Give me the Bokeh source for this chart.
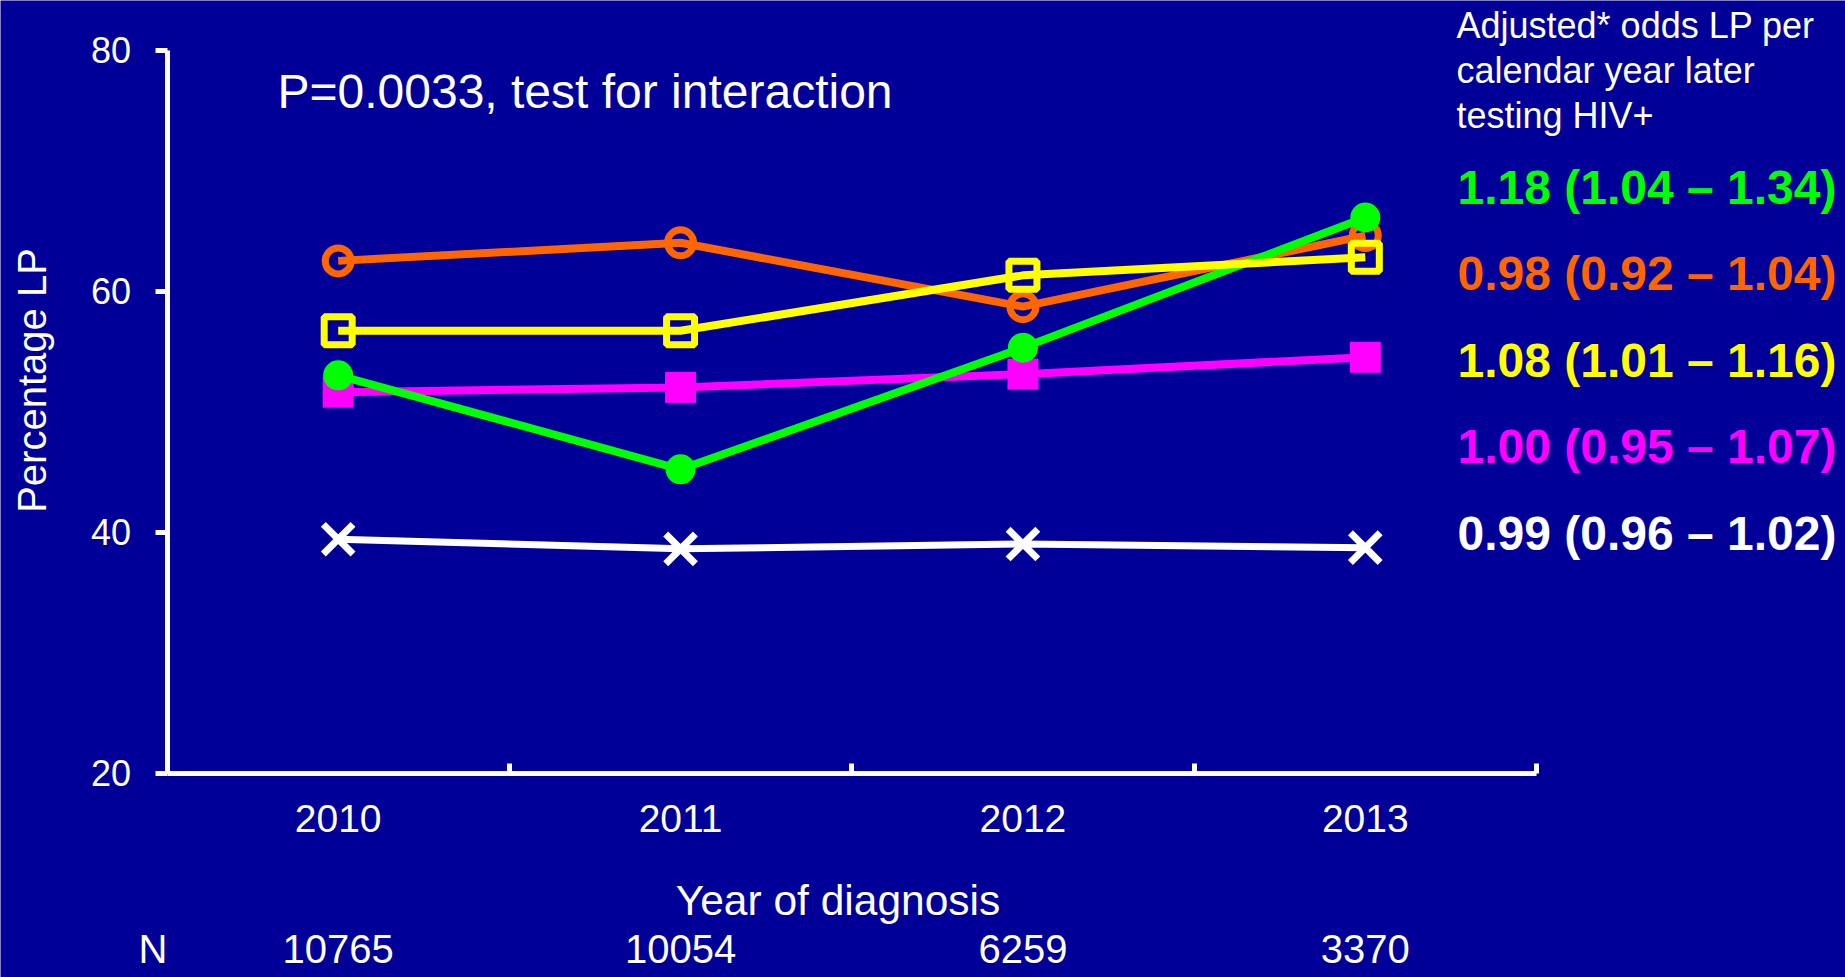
import math
from bokeh.plotting import figure
from bokeh.models import Range1d, FixedTicker, Label, LinearAxis
from bokeh.embed import file_html
from bokeh.resources import INLINE

# ---------------- data ----------------
years = [2010, 2011, 2012, 2013]
n_values = ["10765", "10054", "6259", "3370"]

green_vals = [53.0, 45.2, 55.3, 66.1]
orange_vals = [62.5, 64.0, 58.7, 64.6]
yellow_vals = [56.7, 56.7, 61.3, 62.8]
magenta_vals = [51.6, 52.0, 53.1, 54.5]
white_vals = [39.4, 38.6, 39.0, 38.7]

y_ticks = [20, 40, 60, 80]

odds_labels = [
    "1.18 (1.04 \u2013 1.34)",
    "0.98 (0.92 \u2013 1.04)",
    "1.08 (1.01 \u2013 1.16)",
    "1.00 (0.95 \u2013 1.07)",
    "0.99 (0.96 \u2013 1.02)",
]
header_lines = ["Adjusted* odds LP per", "calendar year later", "testing HIV+"]

# ---------------- style / layout ----------------
BG = "#000099"
GREEN = "#00FF00"
ORANGE = "#FF6600"
YELLOW = "#FFFF00"
MAGENTA = "#FF00FF"
WHITE = "#FFFFFF"
FONT = "Liberation Sans"

W, H = 1845, 977
XA, XB = 2009.5, 2013.5          # axis extent (x)
YA, YB = 20, 80                  # axis extent (y)
AX_L, AX_R = 166.5, 1536.0       # pixel x of XA, XB
AX_T, AX_B = 49.5, 772.5         # pixel y of YB, YA
SX = (AX_R - AX_L) / (XB - XA)
SY = (AX_B - AX_T) / (YB - YA)
x_start = XA - AX_L / SX
x_end = XB + (W - AX_R) / SX
y_end = YB + AX_T / SY
y_start = YA - (H - AX_B) / SY

BASE_FIX = 0.33   # measured offset of the rendered alphabetic baseline (em)

def px(page_x):
    return x_start + page_x / SX

def py(page_y):
    return y_end - page_y / SY

p = figure(width=W, height=H, x_range=Range1d(x_start, x_end), y_range=Range1d(y_start, y_end),
           output_backend="svg", toolbar_location=None,
           x_axis_location=None, y_axis_location=None,
           min_border=0, min_border_left=0, min_border_right=0,
           min_border_top=0, min_border_bottom=0)
p.background_fill_color = BG
p.border_fill_color = BG
p.outline_line_color = None
p.grid.visible = False

# x axis (drawn at y = 20)
xa = LinearAxis(fixed_location=YA, bounds=(XA, XB))
xa.ticker = FixedTicker(ticks=years, minor_ticks=[XA + i for i in range(5)])
xa.axis_line_color = WHITE
xa.axis_line_width = 5
xa.major_tick_in = 0
xa.major_tick_out = 0
xa.major_tick_line_color = None
xa.minor_tick_in = 10
xa.minor_tick_out = 0
xa.minor_tick_line_color = WHITE
xa.minor_tick_line_width = 5
xa.major_label_text_color = WHITE
xa.major_label_text_font = FONT
xa.major_label_text_font_size = "39px"
xa.major_label_standoff = 32
p.add_layout(xa, "below")

# y axis (drawn at x = 2009.5)
ya = LinearAxis(fixed_location=XA, bounds=(YA, YB))
ya.ticker = FixedTicker(ticks=y_ticks)
ya.axis_line_color = WHITE
ya.axis_line_width = 5
ya.major_tick_in = 0
ya.major_tick_out = 12
ya.major_tick_line_color = WHITE
ya.major_tick_line_width = 5
ya.minor_tick_line_color = None
ya.major_label_text_color = WHITE
ya.major_label_text_font = FONT
ya.major_label_text_font_size = "36px"
ya.major_label_standoff = 24
p.add_layout(ya, "left")

# series (drawn bottom to top)
p.line(years, white_vals, line_color=WHITE, line_width=7)
p.scatter(years, white_vals, marker="x", size=42, line_color=WHITE, line_width=7)

p.line(years, magenta_vals, line_color=MAGENTA, line_width=8)
p.scatter(years, magenta_vals, marker="square", size=31, fill_color=MAGENTA, line_color=None)

p.line(years, orange_vals, line_color=ORANGE, line_width=8)
p.scatter(years, orange_vals, marker="circle", size=26, fill_color=None,
          line_color=ORANGE, line_width=7)

p.line(years, green_vals, line_color=GREEN, line_width=8)
p.scatter(years, green_vals, marker="circle", size=30, fill_color=GREEN, line_color=None)

p.line(years, yellow_vals, line_color=YELLOW, line_width=8)
p.scatter(years, yellow_vals, marker="square", size=28, fill_color=None,
          line_color=YELLOW, line_width=7)

# texts (page_x, page_y = wanted pixel position of the text's baseline anchor)
def lab(page_x, page_y, text, size, color=WHITE, align="left", style="normal", x=None):
    shift = BASE_FIX * size
    p.add_layout(Label(x=px(page_x) if x is None else x, y=py(page_y - shift), text=text,
                       text_font=FONT, text_font_size=f"{size}px",
                       text_color=color, text_align=align, text_baseline="alphabetic",
                       text_font_style=style))

lab(277, 107, "P=0.0033, test for interaction", 48)

for i, t in enumerate(header_lines):
    lab(1456, 36.7 + 45.3 * i, t, 36)

odds_colors = [GREEN, ORANGE, YELLOW, MAGENTA, WHITE]
for i, (t, c) in enumerate(zip(odds_labels, odds_colors)):
    lab(1457, 202.5 + 86.6 * i, t, 48, color=c, style="bold")

# rotated y-axis title
ysize = 40
p.add_layout(Label(x=px(45 - BASE_FIX * ysize), y=py(380), text="Percentage LP",
                   text_font=FONT, text_font_size=f"{ysize}px", text_color=WHITE,
                   text_align="center", text_baseline="alphabetic", angle=math.pi / 2))

lab(837.5, 914.3, "Year of diagnosis", 42.5, align="center")

lab(152.5, 962, "N", 40, align="center")
for yr, n in zip(years, n_values):
    lab(0, 962, n, 40, align="center", x=yr)

open("out.html", "w").write(file_html(p, INLINE))
